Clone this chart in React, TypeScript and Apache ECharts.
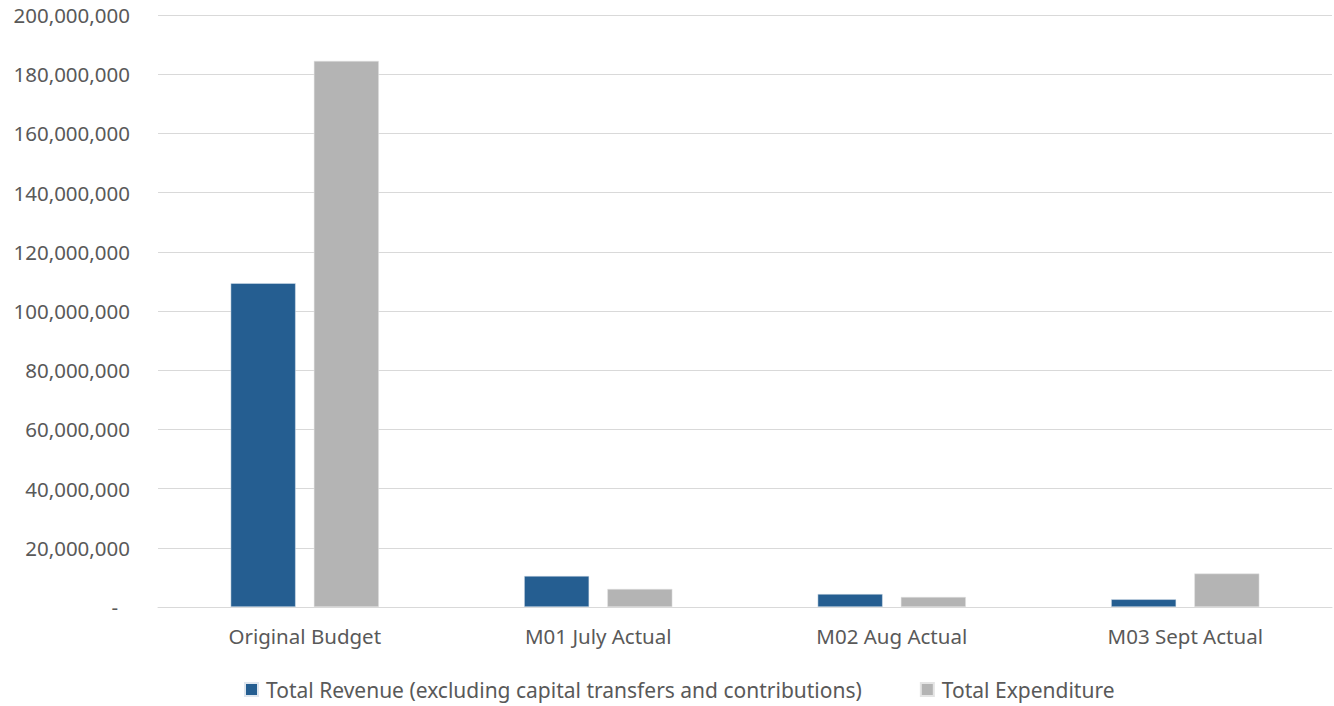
import React, { useEffect, useRef } from "react";
import * as echarts from "echarts";

const categories = ["Original Budget", "M01 July Actual", "M02 Aug Actual", "M03 Sept Actual"];
const revenueName = "Total Revenue (excluding capital transfers and contributions)";
const expenditureName = "Total Expenditure";
const revenue = [109400000, 10500000, 4400000, 2600000];
const expenditure = [184500000, 6100000, 3400000, 11300000];

const FONT = "'Noto Sans', sans-serif";
const TEXT = "#595959";

export default function App() {
  const ref = useRef<HTMLDivElement>(null);
  useEffect(() => {
    document.body.style.margin = "0";
    const chart = echarts.init(ref.current!, null, { renderer: "svg" });
    chart.setOption({
      animation: false,
      backgroundColor: "#ffffff",
      textStyle: { fontFamily: FONT },
      grid: { left: 158, right: 2, top: 15, bottom: 99, containLabel: false },
      legend: {
        bottom: 1,
        left: 239,
        itemWidth: 13,
        itemHeight: 13,
        itemGap: 58,
        icon: "rect",
        textStyle: { color: TEXT, fontSize: 21, fontFamily: FONT, padding: [0, 0, 0, 3] },
        data: [revenueName, expenditureName],
      },
      xAxis: {
        type: "category",
        data: categories,
        axisLine: { lineStyle: { color: "#D9D9D9", width: 1 } },
        axisTick: { show: false },
        axisLabel: { color: TEXT, fontSize: 20.5, margin: 18, fontFamily: FONT },
      },
      yAxis: {
        type: "value",
        min: 0,
        max: 200000000,
        interval: 20000000,
        axisLine: { show: false },
        axisTick: { show: false },
        splitLine: { lineStyle: { color: "#D9D9D9", width: 1 } },
        axisLabel: {
          color: TEXT,
          fontSize: 20.5,
          margin: 28,
          fontFamily: FONT,
          formatter: (v: number) => (v === 0 ? "{d|-}" : v.toLocaleString("en-US")),
          rich: { d: { color: TEXT, fontSize: 20.5, padding: [0, 12, 0, 0], fontFamily: FONT } },
        },
      },
      series: [
        {
          name: revenueName,
          type: "bar",
          data: revenue,
          barWidth: 65,
          barGap: "28%",
          itemStyle: { color: "#255E91", borderColor: "#dfe6ee", borderWidth: 0.5 },
        },
        {
          name: expenditureName,
          type: "bar",
          data: expenditure,
          barWidth: 65,
          itemStyle: { color: "#B4B4B4", borderColor: "#e4e4e4", borderWidth: 0.5 },
        },
      ],
    });
    return () => chart.dispose();
  }, []);
  return <div ref={ref} style={{ width: 1334, height: 706 }} />;
}
